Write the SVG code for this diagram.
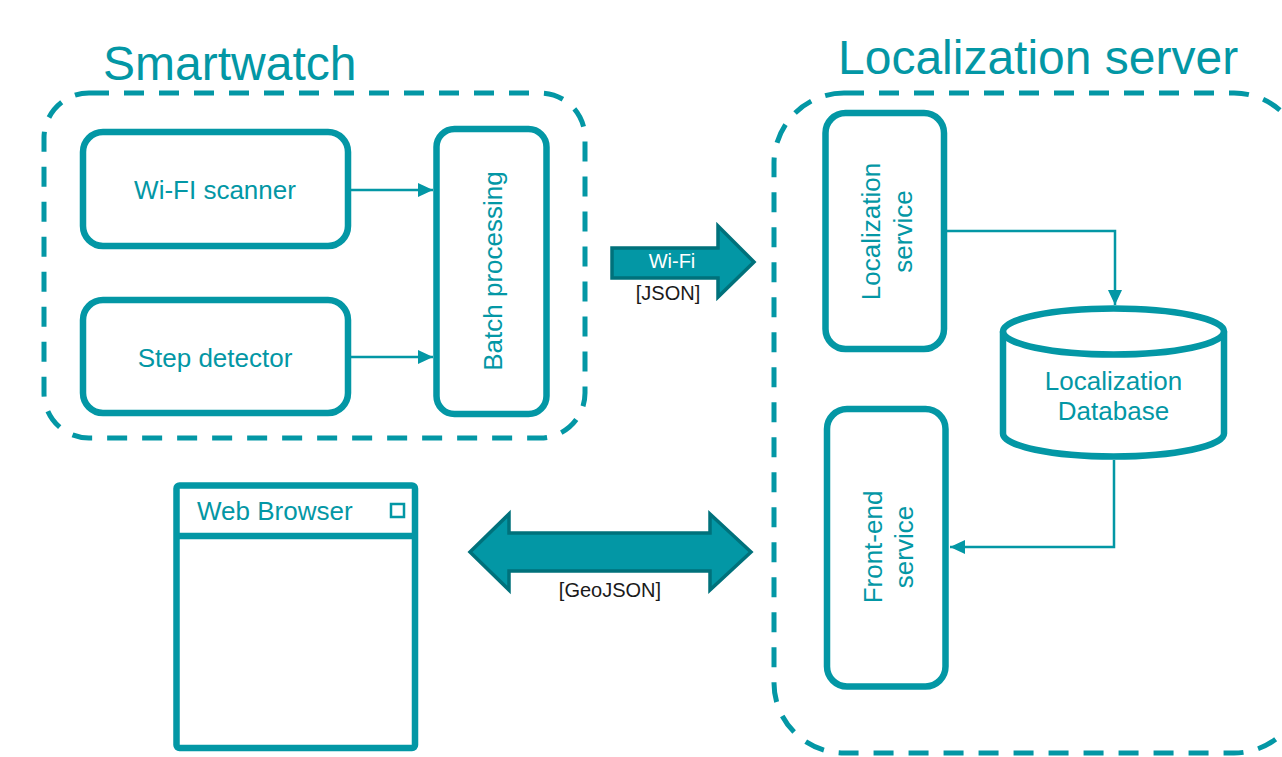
<svg xmlns="http://www.w3.org/2000/svg" width="1282" height="757" viewBox="0 0 1282 757">
<defs>
<style>
.t{font-family:"Liberation Sans",Arial,sans-serif;fill:#0397A5}
.box{fill:none;stroke:#0397A5;stroke-width:6.5}
.grp{fill:none;stroke:#0397A5;stroke-width:5;stroke-dasharray:20 15}
.con{fill:none;stroke:#0397A5;stroke-width:2.5}
.big{fill:#0397A5;stroke:#00717B;stroke-width:3.5;stroke-linejoin:miter}
</style>
<marker id="ah" markerWidth="16" markerHeight="14" refX="15" refY="7" orient="auto" markerUnits="userSpaceOnUse">
<path d="M0,0 L15,7 L0,14 Z" fill="#0397A5"/>
</marker>
</defs>
<rect width="1282" height="757" fill="#ffffff"/>

<g id="smartwatch">
<rect class="grp" x="44" y="93" width="541" height="345" rx="45"/>
<text class="t" x="103" y="80" font-size="48">Smartwatch</text>
</g>

<g id="server">
<rect class="grp" x="774" y="93" width="530" height="660" rx="70"/>
<text class="t" x="838" y="74" font-size="48">Localization server</text>
</g>

<g id="wifi-scanner">
<rect class="box" x="83" y="132" width="265" height="114" rx="20"/>
<text class="t" x="215" y="199" font-size="26" text-anchor="middle">Wi-FI scanner</text>
</g>

<g id="step-detector">
<rect class="box" x="83" y="300" width="265" height="113" rx="20"/>
<text class="t" x="215" y="367" font-size="26" text-anchor="middle">Step detector</text>
</g>

<g id="batch">
<rect class="box" x="436.5" y="129" width="110" height="285" rx="18"/>
<text class="t" transform="translate(502,271) rotate(-90)" font-size="26" text-anchor="middle">Batch processing</text>
</g>

<g id="loc-service">
<rect class="box" x="825.5" y="113" width="118.5" height="236" rx="20"/>
<text class="t" transform="translate(880,231.5) rotate(-90)" font-size="26" text-anchor="middle">Localization</text>
<text class="t" transform="translate(912,231.5) rotate(-90)" font-size="26" text-anchor="middle">service</text>
</g>

<g id="frontend">
<rect class="box" x="827" y="409" width="118.5" height="277.5" rx="20"/>
<text class="t" transform="translate(882,547) rotate(-90)" font-size="26" text-anchor="middle">Front-end</text>
<text class="t" transform="translate(913,547) rotate(-90)" font-size="26" text-anchor="middle">service</text>
</g>

<g id="database">
<path class="box" d="M1003,331.5 V433.5 A110.5,23 0 0,0 1224,433.5 V331.5"/>
<ellipse class="box" cx="1113.5" cy="331.5" rx="110.5" ry="23"/>
<text class="t" x="1113.5" y="390" font-size="26" text-anchor="middle">Localization</text>
<text class="t" x="1113.5" y="420" font-size="26" text-anchor="middle">Database</text>
</g>

<g id="browser">
<rect class="box" x="176.5" y="485.5" width="238.5" height="262.5" rx="3"/>
<line class="box" x1="176.5" y1="536" x2="415" y2="536"/>
<text class="t" x="197" y="520" font-size="26">Web Browser</text>
<rect x="391" y="504" width="13" height="13" fill="none" stroke="#0397A5" stroke-width="2.5"/>
</g>

<g id="connectors">
<line class="con" x1="350" y1="190" x2="433" y2="190" marker-end="url(#ah)"/>
<line class="con" x1="350" y1="357" x2="433" y2="357" marker-end="url(#ah)"/>
<polyline class="con" points="947,231 1115,231 1115,305" marker-end="url(#ah)"/>
<polyline class="con" points="1114,460 1114,547 950,547" marker-end="url(#ah)"/>
<g id="wifi-arrow">
<polygon class="big" points="612,248 718,248 718,226 754,262 718,297 718,278 612,278"/>
<text x="672" y="268" font-size="20" text-anchor="middle" font-family="Liberation Sans,Arial,sans-serif" fill="#ffffff">Wi-Fi</text>
<text x="668" y="300" font-size="20" text-anchor="middle" font-family="Liberation Sans,Arial,sans-serif" fill="#1a1a1a">[JSON]</text>
</g>
<g id="geojson-arrow">
<polygon class="big" points="470,552 509,514 509,533 710,533 710,514 751,552 710,590 710,571 509,571 509,590"/>
<text x="610" y="597" font-size="20" text-anchor="middle" font-family="Liberation Sans,Arial,sans-serif" fill="#1a1a1a">[GeoJSON]</text>
</g>
</g>
</svg>
